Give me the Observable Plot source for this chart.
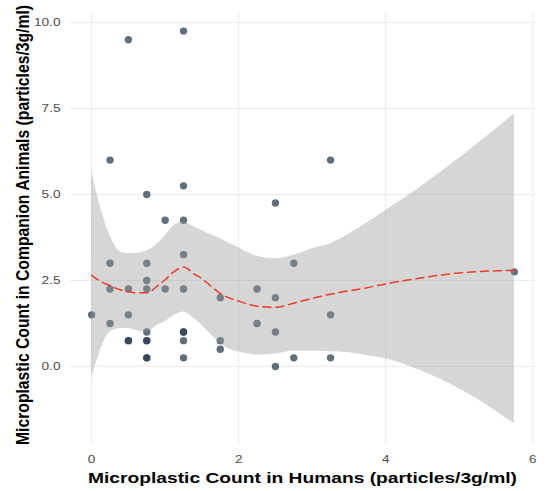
<!DOCTYPE html>
<html>
<head>
<meta charset="utf-8">
<script src="https://cdn.jsdelivr.net/npm/d3@7"></script>
<script src="https://cdn.jsdelivr.net/npm/@observablehq/plot@0.6"></script>
<style>
  html, body { margin: 0; padding: 0; background: white; }
  #chart { width: 550px; height: 491px; }
</style>
</head>
<body>
<div id="chart"></div>
<script>
// Scatter points: microplastic counts (particles/3g/ml)
const humans  = [0, 0.25, 0.25, 0.25, 0.25, 0.5, 0.5, 0.5, 0.5, 0.5,
                 0.75, 0.75, 0.75, 0.75, 0.75, 0.75, 0.75, 0.75, 0.75,
                 1.0, 1.0, 1.25, 1.25, 1.25, 1.25, 1.25, 1.25, 1.25, 1.25, 1.25,
                 1.75, 1.75, 1.75, 2.25, 2.25, 2.5, 2.5, 2.5, 2.5,
                 2.75, 2.75, 3.25, 3.25, 3.25, 5.75];
const animals = [1.5, 6.0, 3.0, 2.25, 1.25, 9.5, 2.25, 1.5, 0.75, 0.75,
                 5.0, 3.0, 2.5, 2.25, 1.0, 0.75, 0.75, 0.25, 0.25,
                 4.25, 2.25, 9.75, 5.25, 4.25, 3.25, 2.25, 1.0, 1.0, 0.75, 0.25,
                 2.0, 0.75, 0.5, 2.25, 1.25, 4.75, 2.0, 1.0, 0.0,
                 3.0, 0.25, 6.0, 1.5, 0.25, 2.75];

// LOESS fit with confidence band
const fitX     = [0, 0.1, 0.25, 0.4, 0.5, 0.6, 0.75, 0.9, 1.0, 1.1, 1.25, 1.4, 1.5, 1.6, 1.75, 1.9, 2.0, 2.25, 2.5, 2.75, 3.0, 3.25, 3.5, 3.75, 4.0, 4.5, 5.0, 5.5, 5.75];
const fitY     = [2.65, 2.5, 2.35, 2.22, 2.18, 2.14, 2.14, 2.35, 2.52, 2.72, 2.89, 2.68, 2.55, 2.38, 2.12, 1.97, 1.9, 1.75, 1.72, 1.84, 1.98, 2.1, 2.2, 2.29, 2.4, 2.58, 2.72, 2.78, 2.79];
const fitLower = [-0.35, 0.35, 1.0, 1.1, 1.1, 1.05, 1.0, 1.2, 1.3, 1.45, 1.58, 1.38, 1.2, 0.98, 0.66, 0.48, 0.42, 0.33, 0.36, 0.44, 0.44, 0.43, 0.4, 0.32, 0.22, -0.15, -0.65, -1.3, -1.67];
const fitUpper = [5.65, 4.8, 3.8, 3.32, 3.28, 3.28, 3.36, 3.57, 3.8, 4.05, 4.2, 4.05, 3.95, 3.85, 3.72, 3.55, 3.45, 3.2, 3.13, 3.23, 3.42, 3.57, 3.85, 4.18, 4.53, 5.25, 6.05, 6.9, 7.35];

const xTicks = [0, 2, 4, 6];
const yTicks = [0, 2.5, 5, 7.5, 10];
const xTitle = "Microplastic Count in Humans (particles/3g/ml)";
const yTitle = "Microplastic Count in Companion Animals (particles/3g/ml)";

const points = humans.map((x, i) => ({x, y: animals[i]}));
const fit = fitX.map((x, i) => ({x, y: fitY[i], lo: fitLower[i], hi: fitUpper[i]}));

const svg = Plot.plot({
  width: 550,
  height: 491,
  marginLeft: 70,
  marginRight: 15,
  marginTop: 11,
  marginBottom: 47,
  style: {fontFamily: "'Liberation Sans', Arial, sans-serif", fontSize: "10.5px", color: "#4d4d4d", background: "white"},
  x: {domain: [-0.2875, 6.0375]},
  y: {domain: [-2.27, 10.32]},
  marks: [
    Plot.gridX(xTicks, {stroke: "#ebebeb", strokeOpacity: 1, strokeWidth: 1}),
    Plot.gridY(yTicks, {stroke: "#ebebeb", strokeOpacity: 1, strokeWidth: 1}),
    Plot.axisX({ticks: xTicks, tickSize: 0, tickPadding: 11, label: null, fill: "#4d4d4d", tickFormat: d3.format("d")}),
    Plot.axisY({ticks: yTicks, tickSize: 0, tickPadding: 10, label: null, fill: "#4d4d4d", tickFormat: d3.format(".1f")}),
    Plot.dot(points, {x: "x", y: "y", r: 3.7, fill: "#2c3e50", fillOpacity: 0.75, stroke: "none"}),
    Plot.areaY(fit, {x: "x", y1: "lo", y2: "hi", fill: "#999999", fillOpacity: 0.4, curve: "monotone-x"}),
    Plot.line(fit, {x: "x", y: "y", stroke: "#ee3b2b", strokeWidth: 1.5, strokeDasharray: "8,5", curve: "monotone-x"})
  ]
});

// Horizontal stretch of text (the reference picture is widened)
function stretch(el, sx) {
  const t = el.getAttribute("transform");
  if (t && t.includes("translate")) {
    el.setAttribute("transform", t + ` scale(${sx},1)`);
  } else {
    const x = +(el.getAttribute("x") || 0), y = +(el.getAttribute("y") || 0);
    el.setAttribute("transform", `translate(${x},${y}) scale(${sx},1) translate(${-x},${-y})`);
  }
}
d3.select(svg).selectAll("g[aria-label='x-axis tick label'] text, g[aria-label='y-axis tick label'] text")
  .each(function() { stretch(this, 1.3); });

const s = d3.select(svg);
s.append("text")
  .attr("x", 302.5).attr("y", 482.5)
  .attr("text-anchor", "middle")
  .attr("font-size", 15.4).attr("font-weight", "bold").attr("fill", "black")
  .attr("textLength", 429).attr("lengthAdjust", "spacingAndGlyphs")
  .text(xTitle);
s.append("text")
  .attr("transform", "translate(28.5,225) scale(1.3,1) rotate(-90)")
  .attr("text-anchor", "middle")
  .attr("font-size", 14.5).attr("font-weight", "bold").attr("fill", "black")
  .attr("textLength", 440).attr("lengthAdjust", "spacingAndGlyphs")
  .text(yTitle);

document.getElementById("chart").appendChild(svg);
</script>
</body>
</html>
